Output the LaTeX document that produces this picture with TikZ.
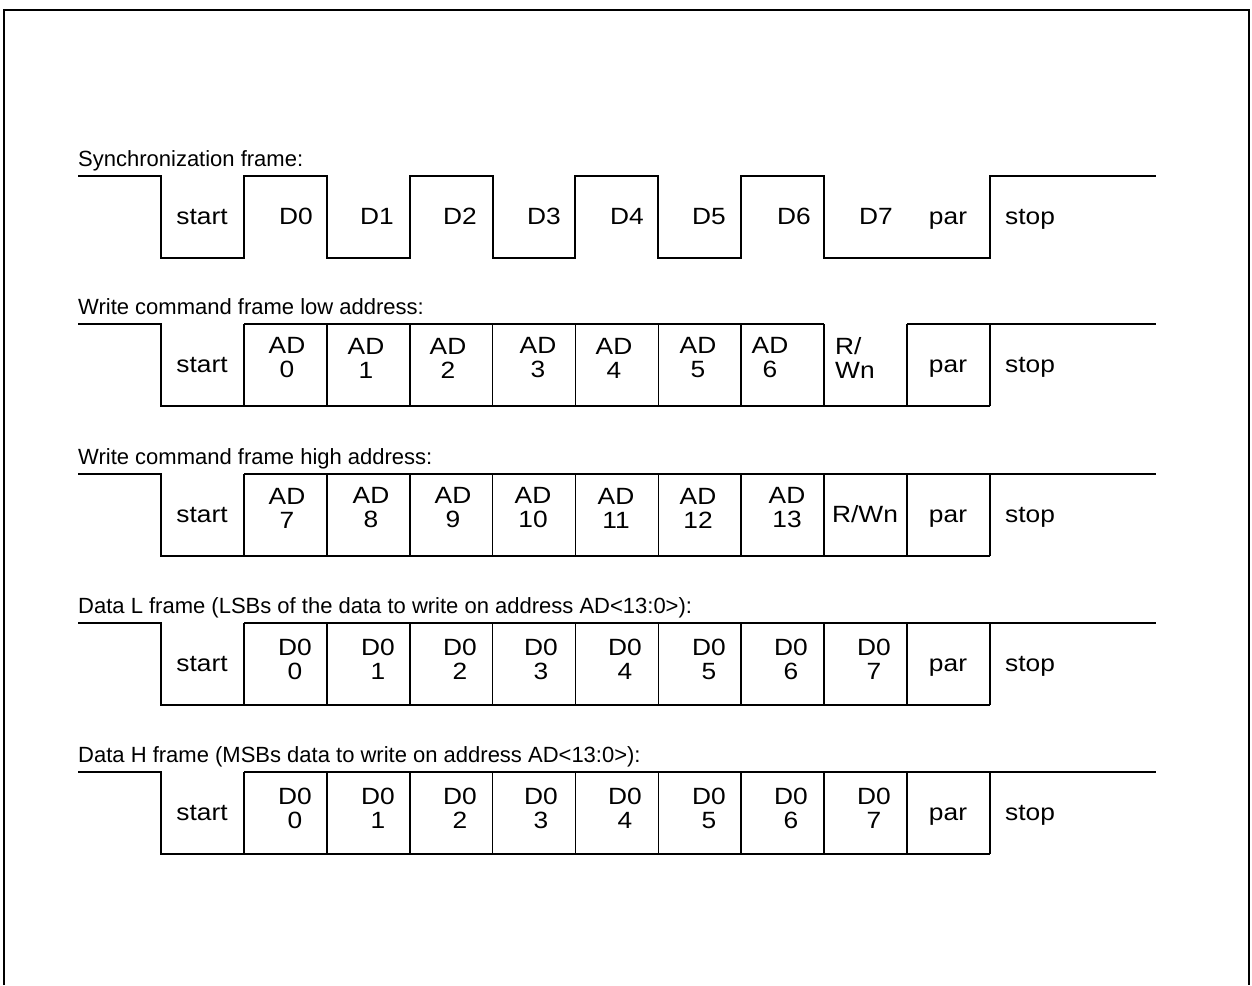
\documentclass[tikz,border=0pt]{standalone}
\usepackage{fontspec}
\setmainfont{Liberation Sans}
\newfontfamily\bitfont[FakeStretch=1.12]{Liberation Sans}
\usetikzlibrary{positioning}

\tikzset{
  wave/.style={line width=1.7pt, line join=miter},
  title/.style={anchor=base west, inner sep=0pt, font=\fontsize{22}{26}\selectfont},
  bitlbl/.style={inner sep=0pt, align=center, font=\bitfont\fontsize{23.5}{24}\selectfont},
}

\begin{document}
\begin{tikzpicture}[x=1pt, y=-1pt]
  \useasboundingbox (0,0) rectangle (1252,985);
  % ---- outer frame (open at the bottom) ----
  \draw[line width=1.4pt] (4,985) -- (4,10);
  \draw[line width=1.4pt] (1249,10) -- (1249,985);
  \draw[line width=2.6pt] (3,10) -- (1250,10);

  % ---- synchronization frame ----
  \begin{scope}[shift={(0,176)}]
    \node[title] (synctitle) at (78,-10) {Synchronization frame:};
    \draw[wave] (78,0) -| (161,82) -| (244,0) -| (327,82) -| (410,0) -| (493,82)
      -| (575,0) -| (658,82) -| (741,0) -| (824,82) -| (990,0) -- (1156,0);
    \node[bitlbl, anchor=base] (syncstart) at (202,48) {start};
    \foreach \x/\t [count=\i] in {296/D0,377/D1,460/D2,544/D3,627/D4,709/D5,794/D6,876/D7}
      \node[bitlbl, anchor=base] (syncbit\i) at (\x,48) {\t};
    \node[bitlbl, anchor=base] (syncpar) at (948,48) {par};
    \node[bitlbl, anchor=base west] (syncstop) at (1005,48) {stop};
  \end{scope}

  % ---- write command, low address ----
  \begin{scope}[shift={(0,324)}]
    \node[title] (lotitle) at (78,-10) {Write command frame low address:};
    \draw[wave] (78,0) -| (161,82) -- (990,82);
    \draw[wave] (244,0) -- (824,0) (907,0) -- (1156,0);
    \foreach \k in {1,...,10} \draw[wave] (161+82.9*\k,0) -- ++(0,82);
    \node[bitlbl, anchor=base] (lostart) at (202,48) {start};
    \foreach \x/\t [count=\i] in {287/0,366/1,448/2,538/3,614/4,698/5,770/6}
      \node[bitlbl] (lobit\i) at (\x,34) {AD\\\t};
    \node[bitlbl, align=left, anchor=west] (lorw) at (835,34) {R/\\Wn};
    \node[bitlbl, anchor=base] (lopar) at (948,48) {par};
    \node[bitlbl, anchor=base west] (lostop) at (1005,48) {stop};
  \end{scope}

  % ---- write command, high address ----
  \begin{scope}[shift={(0,474)}]
    \node[title] (hititle) at (78,-10) {Write command frame high address:};
    \draw[wave] (78,0) -| (161,82) -- (990,82);
    \draw[wave] (244,0) -- (1156,0);
    \foreach \k in {1,...,10} \draw[wave] (161+82.9*\k,0) -- ++(0,82);
    \node[bitlbl, anchor=base] (histart) at (202,48) {start};
    \foreach \x/\t [count=\i] in {287/7,371/8,453/9,533/10,616/11,698/12,787/13}
      \node[bitlbl] (hibit\i) at (\x,34) {AD\\\t};
    \node[bitlbl, anchor=base] (hirw) at (865,48) {R/Wn};
    \node[bitlbl, anchor=base] (hipar) at (948,48) {par};
    \node[bitlbl, anchor=base west] (histop) at (1005,48) {stop};
  \end{scope}

  % ---- data frames (L and H) ----
  \foreach \yy/\nm/\txt in {623/dl/{Data L frame (LSBs of the data to write on address AD<13:0>):},
                            772/dh/{Data H frame (MSBs data to write on address AD<13:0>):}} {
    \begin{scope}[shift={(0,\yy)}]
      \node[title] (\nm title) at (78,-10) {\txt};
      \draw[wave] (78,0) -| (161,82) -- (990,82);
      \draw[wave] (244,0) -- (1156,0);
      \foreach \k in {1,...,10} \draw[wave] (161+82.9*\k,0) -- ++(0,82);
      \node[bitlbl, anchor=base] (\nm start) at (202,48) {start};
      \foreach \x/\t [count=\i] in {295/0,378/1,460/2,541/3,625/4,709/5,791/6,874/7}
        \node[bitlbl] (\nm bit\i) at (\x,36) {D0\\\t};
      \node[bitlbl, anchor=base] (\nm par) at (948,48) {par};
      \node[bitlbl, anchor=base west] (\nm stop) at (1005,48) {stop};
    \end{scope}
  }
\end{tikzpicture}
\end{document}
